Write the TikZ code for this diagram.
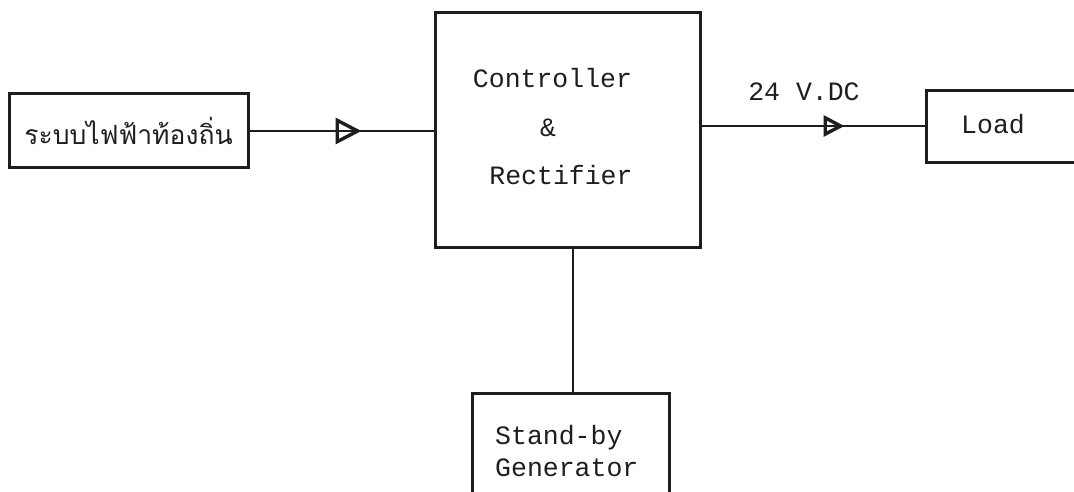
\documentclass[tikz,border=0pt]{standalone}
\usepackage{fontspec}
\setmonofont{Liberation Mono}
\newfontfamily\thaifont[Script=Thai]{Loma}
\usetikzlibrary{arrows.meta,decorations.markings}
\definecolor{ink}{HTML}{1E1E1E}
\tikzset{
  blockbox/.style={draw=ink, line width=3pt, inner sep=0pt},
  lbl/.style={text=ink, font=\fontsize{26.5}{30}\selectfont\ttfamily, inner sep=0pt},
  wire/.style={draw=ink, line width=2.6pt},
  midarrow/.style args={#1 at #2}{postaction={decorate}, decoration={markings,
     mark=at position #2 with {\arrow[ink, line width=3.4pt]{Triangle[open, length=#1, width=#1]}}}}
}
\begin{document}
\begin{tikzpicture}[x=1pt,y=-1pt]
\useasboundingbox (0,0) rectangle (1074,492);
\clip (0,0) rectangle (1074,492);
\fill[white] (0,0) rectangle (1074,492);
% boxes
\node[blockbox, minimum width=239pt, minimum height=74pt] (local) at (128.5,131)
  {\color{ink}\thaifont\fontsize{26.5}{32}\selectfont ระบบไฟฟ้าท้องถิ่น};
\node[blockbox, minimum width=265pt, minimum height=234pt] (ctrl) at (567.5,130) {};
\node[lbl] (ctrlA) at (552.5,78) {Controller};
\node[lbl] (ctrlB) at (548,128) {\&};
\node[lbl] (ctrlC) at (561,175) {Rectifier};
\node[blockbox, minimum width=200pt, minimum height=72pt, anchor=north west] (load) at (925,89) {};
\node[lbl] (loadt) at (993,124) {Load};
\node[blockbox, minimum width=197pt, minimum height=140pt, anchor=north west] (gen) at (471,392) {};
\node[lbl, align=left, anchor=west] (gent) at (495,451) {Stand-by\\[2pt]Generator};
\node[lbl] (vdc) at (804,92) {24 V.DC};
% connectors
\draw[wire, midarrow={26pt at 112pt}] (local.east) -- (local.east -| ctrl.west);
\draw[wire, midarrow={21pt at 143pt}] (ctrl.east |- 0,126) coordinate (c1) -- (c1 -| load.west);
\draw[wire] (ctrl.south -| 573,0) coordinate (c2) -- (c2 |- gen.north);
\end{tikzpicture}
\end{document}
